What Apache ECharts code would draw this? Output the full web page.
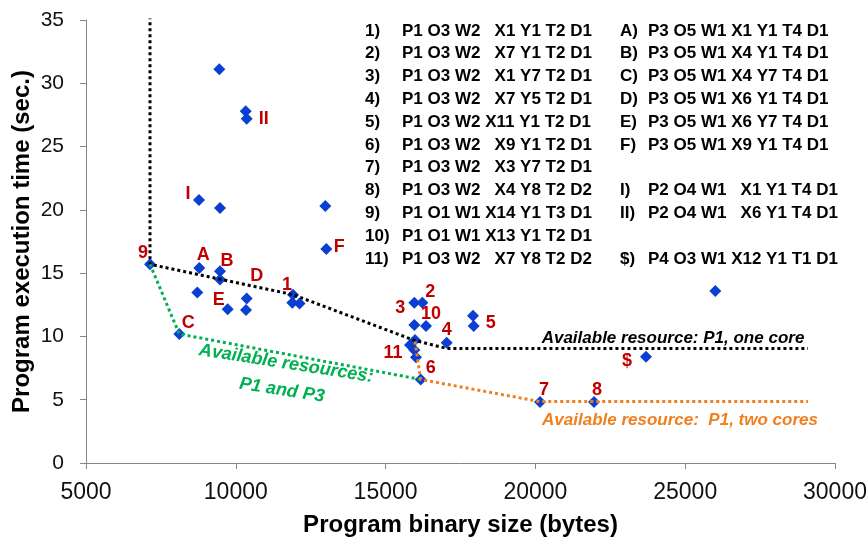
<!DOCTYPE html>
<html>
<head>
<meta charset="utf-8">
<script src="https://cdn.jsdelivr.net/npm/echarts@6/dist/echarts.min.js"></script>
<style>
html,body{margin:0;padding:0;background:#fff;}
#chart{width:867px;height:537px;}
</style>
</head>
<body>
<div id="chart"></div>
<script>
// ---- data ----
const pointX = [9449, 10330, 10363, 8772, 9473, 12987, 13021, 7136, 8782, 9473, 9473, 8715, 10363, 9730, 10340,
  11909, 11886, 12129, 8115, 15958, 16225, 15958, 16348, 17040, 17917, 17940, 15814, 15981, 15958, 16015, 16171,
  26005, 23692, 20153, 21956];
const pointY = [31.1, 27.8, 27.2, 20.77, 20.14, 20.3, 16.9, 15.7, 15.4, 15.14, 14.5, 13.48, 13.0, 12.14, 12.09,
  13.3, 12.66, 12.6, 10.19, 12.66, 12.66, 10.9, 10.82, 9.5, 11.64, 10.82, 9.32, 9.72, 8.93, 8.35, 6.6,
  13.59, 8.4, 4.82, 4.82];
const pointTags = ['', '', 'II', 'I', '', '', 'F', '9', 'A', 'B', '', '', 'D', 'E', '',
  '1', '', '', 'C', '3', '2', '', '10', '4', '', '5', '11', '', '', '', '6',
  '', '$', '7', '8'];
const oneCoreLine = [[7136, 35.3], [7136, 15.7], [11909, 13.3], [15950, 9.7], [17040, 9.05], [29100, 9.05]];
const p1p3Line = [[7136, 15.7], [8115, 10.19], [16171, 6.6]];
const twoCoreLine = [[15980, 9.6], [16171, 6.6], [20153, 4.85], [29100, 4.85]];
const keyNums1 = ['1)', '2)', '3)', '4)', '5)', '6)', '7)', '8)', '9)', '10)', '11)'];
const keyDescs1 = ['P1 O3 W2   X1 Y1 T2 D1', 'P1 O3 W2   X7 Y1 T2 D1', 'P1 O3 W2   X1 Y7 T2 D1', 'P1 O3 W2   X7 Y5 T2 D1',
  'P1 O3 W2 X11 Y1 T2 D1', 'P1 O3 W2   X9 Y1 T2 D1', 'P1 O3 W2   X3 Y7 T2 D1', 'P1 O3 W2   X4 Y8 T2 D2',
  'P1 O1 W1 X14 Y1 T3 D1', 'P1 O1 W1 X13 Y1 T2 D1', 'P1 O3 W2   X7 Y8 T2 D2'];
const keyNums2 = ['A)', 'B)', 'C)', 'D)', 'E)', 'F)', '', 'I)', 'II)', '', '$)'];
const keyDescs2 = ['P3 O5 W1 X1 Y1 T4 D1', 'P3 O5 W1 X4 Y1 T4 D1', 'P3 O5 W1 X4 Y7 T4 D1', 'P3 O5 W1 X6 Y1 T4 D1',
  'P3 O5 W1 X6 Y7 T4 D1', 'P3 O5 W1 X9 Y1 T4 D1', '', 'P2 O4 W1   X1 Y1 T4 D1', 'P2 O4 W1   X6 Y1 T4 D1', '',
  'P4 O3 W1 X12 Y1 T1 D1'];
const xTitle = 'Program binary size (bytes)';
const yTitle = 'Program execution time (sec.)';

// ---- styles ----
const tagOffset = {
  '9': [-7, -11], 'A': [4, -13], 'B': [7, -10], 'D': [10, -22], 'E': [-9, -9], 'C': [9, -11],
  'I': [-11, -6], 'II': [17, 0], 'F': [13, -2], '1': [-6, -10], '2': [8, -11], '3': [-14, 5],
  '10': [5, -12], '4': [0, -13], '5': [17, -3], '11': [-17, 8], '6': [10, -11], '7': [4, -12],
  '8': [3, -12], '$': [-19, 4]
};
const FONT = '"Liberation Sans", Arial, sans-serif';

const scatterData = pointX.map((x, i) => {
  const tag = pointTags[i];
  const item = { value: [x, pointY[i]] };
  if (tag) {
    item.label = {
      show: true, formatter: tag, position: 'inside', offset: tagOffset[tag],
      color: '#c00000', fontWeight: 'bold', fontSize: 18, fontFamily: FONT
    };
  }
  return item;
});

const graphics = [];
const rowY0 = 31, rowStep = 22.8;
const keyStyle = { fill: '#000', fontSize: 17, fontWeight: 'bold', fontFamily: FONT, verticalAlign: 'middle' };
keyNums1.forEach((n, i) => {
  graphics.push({ type: 'text', style: Object.assign({ text: n, x: 365, y: rowY0 + i * rowStep }, keyStyle) });
  graphics.push({ type: 'text', style: Object.assign({ text: keyDescs1[i], x: 402, y: rowY0 + i * rowStep }, keyStyle) });
});
keyNums2.forEach((n, i) => {
  if (!n) return;
  graphics.push({ type: 'text', style: Object.assign({ text: n, x: 620, y: rowY0 + i * rowStep }, keyStyle) });
  graphics.push({ type: 'text', style: Object.assign({ text: keyDescs2[i], x: 648, y: rowY0 + i * rowStep }, keyStyle) });
});

graphics.push({
  type: 'text', style: { text: 'Available resource: P1, one core', x: 673, y: 338, align: 'center', verticalAlign: 'middle',
    fill: '#000', fontSize: 17, fontWeight: 'bold', fontStyle: 'italic', fontFamily: FONT }
});
graphics.push({
  type: 'text', style: { text: 'Available resource:  P1, two cores', x: 680, y: 420, align: 'center', verticalAlign: 'middle',
    fill: '#f07f1e', fontSize: 17, fontWeight: 'bold', fontStyle: 'italic', fontFamily: FONT }
});
graphics.push({
  type: 'text', x: 284, y: 377, rotation: -0.155,
  style: { text: 'Available resources:\nP1 and P3', x: 0, y: 0, align: 'center', verticalAlign: 'middle', lineHeight: 27,
    fill: '#00b050', fontSize: 18, fontWeight: 'bold', fontStyle: 'italic', fontFamily: FONT }
});

const chart = echarts.init(document.getElementById('chart'));
const dotted = (color) => ({ color: color, width: 3, type: [3, 3] });
chart.setOption({
  animation: false,
  backgroundColor: '#fff',
  grid: { left: 86, right: 32, top: 20, bottom: 74, containLabel: false, outerBoundsMode: 'none' },
  xAxis: {
    type: 'value', min: 5000, max: 30000, interval: 5000,
    name: xTitle, nameLocation: 'middle', nameGap: 50, nameMoveOverlap: false,
    nameTextStyle: { fontSize: 24, fontWeight: 'bold', color: '#000', fontFamily: FONT },
    axisLine: { show: true, lineStyle: { color: '#868686', width: 1 } },
    axisTick: { show: true, inside: false, length: 6, lineStyle: { color: '#868686' } },
    axisLabel: { fontSize: 23, color: '#111', fontFamily: FONT, margin: 18, formatter: (v) => String(v) },
    splitLine: { show: false }
  },
  yAxis: {
    type: 'value', min: 0, max: 35, interval: 5,
    name: yTitle, nameLocation: 'middle', nameGap: 52, nameMoveOverlap: false,
    nameTextStyle: { fontSize: 24, fontWeight: 'bold', color: '#000', fontFamily: FONT },
    axisLine: { show: true, lineStyle: { color: '#868686', width: 1 } },
    axisTick: { show: true, inside: false, length: 6, lineStyle: { color: '#868686' } },
    axisLabel: { fontSize: 21, color: '#111', fontFamily: FONT, margin: 22, formatter: (v) => String(v) },
    splitLine: { show: false }
  },
  graphic: graphics,
  series: [
    {
      type: 'scatter', symbol: 'diamond', symbolSize: 12,
      itemStyle: { color: '#0a3fd1', opacity: 1 },
      data: scatterData, z: 2
    },
    { type: 'line', data: oneCoreLine, symbol: 'none', lineStyle: dotted('#000'), z: 3, silent: true },
    { type: 'line', data: p1p3Line, symbol: 'none', lineStyle: dotted('#00b050'), z: 3, silent: true },
    { type: 'line', data: twoCoreLine, symbol: 'none', lineStyle: dotted('#f07f1e'), z: 3, silent: true }
  ]
});
</script>
</body>
</html>
